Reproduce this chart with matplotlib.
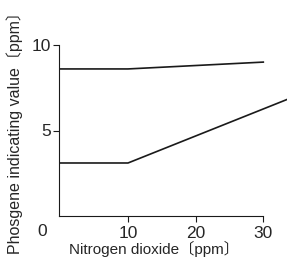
import matplotlib.pyplot as plt

plt.rcParams['font.family'] = ['Liberation Sans', 'Noto Sans CJK JP', 'DejaVu Sans']

# upper curve
upper_x = [0, 10, 30]
upper_y = [8.6, 8.6, 9.0]
# lower curve (runs off the right edge)
lower_x = [0, 10, 35]
lower_y = [3.1, 3.1, 7.05]

x_ticks = [10, 20, 30]
y_ticks = [5, 10]

fig = plt.figure(figsize=(2.87, 2.60), dpi=100)
ax = fig.add_axes([59 / 287, 1 - 216 / 260, (263.3 - 59) / 287, (216 - 45) / 260])

ax.plot(upper_x, upper_y, color='#1a1a1a', linewidth=1.2, clip_on=False)
ax.plot(lower_x, lower_y, color='#1a1a1a', linewidth=1.2, clip_on=False)

ax.set_xlim(-0.2, 30)
ax.set_ylim(0, 10)
ax.set_xticks(x_ticks)
ax.set_yticks(y_ticks)
ax.tick_params(labelsize=12.5, length=4, width=0.8, pad=2, color='#1a1a1a', labelcolor='#262626')
ax.tick_params(axis='x', pad=3)
for s in ['top', 'right']:
    ax.spines[s].set_visible(False)
for s in ['left', 'bottom']:
    ax.spines[s].set_linewidth(0.8)
    ax.spines[s].set_color('#1a1a1a')

# shared origin label
fig.text(42 / 287, 1 - 231 / 260, '0', fontsize=12.5, ha='center', va='center', color='#262626')

fig.text(154 / 287, 1 - 249 / 260, 'Nitrogen dioxide〔ppm〕', fontsize=11,
         ha='center', va='center', color='#262626')
fig.text(15 / 287, 1 - 129 / 260, 'Phosgene indicating value〔ppm〕', fontsize=11.5,
         ha='center', va='center', rotation=90, color='#262626')

fig.savefig('out.png', dpi=100)
